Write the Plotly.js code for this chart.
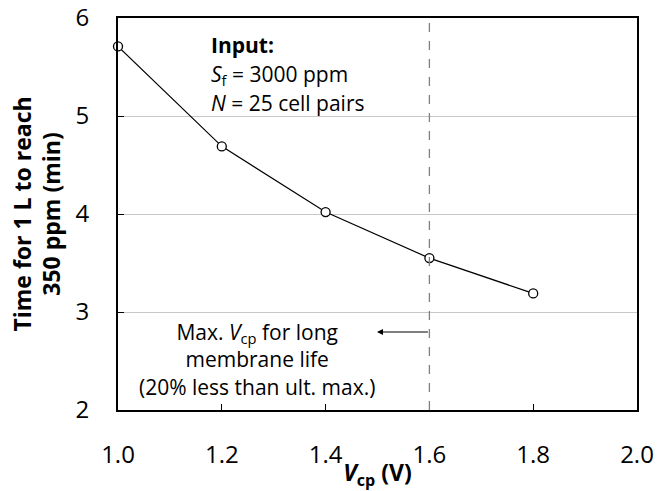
<!DOCTYPE html>
<html>
<head>
<meta charset="utf-8">
<script src="https://cdn.plot.ly/plotly-3.0.1.min.js"></script>
<style>html,body{margin:0;padding:0;background:#fff;}#chart{width:657px;height:491px;}</style>
</head>
<body>
<div id="chart"></div>
<script>
const vcp = [1.0, 1.2, 1.4, 1.6, 1.8];
const timeMin = [5.71, 4.69, 4.02, 3.55, 3.19];
const xTicks = [1.0, 1.2, 1.4, 1.6, 1.8, 2.0];
const xTickLabels = ['1.0', '1.2', '1.4', '1.6', '1.8', '2.0'];
const yTicks = [2, 3, 4, 5, 6];
const limitV = 1.6;

const FONT = 'Open Sans, sans-serif';

const data = [{
  x: vcp, y: timeMin, type: 'scatter', mode: 'lines+markers',
  line: {color: '#000', width: 1.2},
  marker: {symbol: 'circle', size: 9, color: '#fff', line: {color: '#000', width: 1.3}},
  hoverinfo: 'skip', showlegend: false, cliponaxis: false
}];

const layout = {
  width: 657, height: 491,
  margin: {l: 118, r: 20, t: 18, b: 81},
  paper_bgcolor: '#fff', plot_bgcolor: '#fff',
  font: {family: FONT, color: '#000', size: 21},
  xaxis: {
    range: [1.0, 2.0], tickvals: xTicks, ticktext: xTickLabels,
    ticks: 'inside', ticklen: 6, tickwidth: 1, tickcolor: '#000',
    ticklabelstandoff: 22,
    showgrid: false, zeroline: false,
    showline: true, linecolor: '#000', linewidth: 2, mirror: true,
    tickfont: {family: FONT, size: 24, color: '#000'},
    title: {text: '<b><i>V</i><sub>cp</sub> (V)</b>', font: {family: FONT, size: 23, color: '#000'}, standoff: 3}
  },
  yaxis: {
    range: [2, 6], tickvals: yTicks,
    ticks: 'inside', ticklen: 6, tickwidth: 1, tickcolor: '#000',
    ticklabelstandoff: 22,
    showgrid: true, gridcolor: '#c8c8c8', gridwidth: 1, zeroline: false,
    showline: true, linecolor: '#000', linewidth: 2, mirror: true,
    tickfont: {family: FONT, size: 24, color: '#000'},
    title: {text: '<b>Time for 1 L to reach<br>350 ppm (min)</b>', font: {family: FONT, size: 23, color: '#000'}, standoff: 8}
  },
  shapes: [{
    type: 'line', xref: 'x', yref: 'paper', x0: limitV, x1: limitV, y0: 0, y1: 1,
    line: {color: '#808080', width: 1.3, dash: 'dash'}
  }],
  annotations: [
    {xref: 'paper', yref: 'paper', x: 0.176, y: 0.931, xanchor: 'left', yanchor: 'middle', showarrow: false,
     text: '<b>Input:</b>', font: {family: FONT, size: 21}},
    {xref: 'paper', yref: 'paper', x: 0.176, y: 0.855, xanchor: 'left', yanchor: 'middle', showarrow: false,
     text: '<i>S</i><sub>f</sub> = 3000 ppm', font: {family: FONT, size: 21}},
    {xref: 'paper', yref: 'paper', x: 0.176, y: 0.783, xanchor: 'left', yanchor: 'middle', showarrow: false,
     text: '<i>N</i> = 25 cell pairs', font: {family: FONT, size: 21}},
    {xref: 'paper', yref: 'paper', x: 0.267, y: 0.130, xanchor: 'center', yanchor: 'middle', showarrow: false,
     align: 'center',
     text: 'Max. <i>V</i><sub>cp</sub> for long<br>membrane life<br>(20% less than ult. max.)',
     font: {family: FONT, size: 21}},
    {xref: 'x', yref: 'y', x: 1.499, y: 2.796, ax: limitV, ay: 2.796, axref: 'x', ayref: 'y',
     showarrow: true, arrowhead: 2, arrowsize: 1, arrowwidth: 1.2, arrowcolor: '#000', text: ''}
  ]
};

Plotly.newPlot('chart', data, layout, {displayModeBar: false, staticPlot: true});
</script>
</body>
</html>
